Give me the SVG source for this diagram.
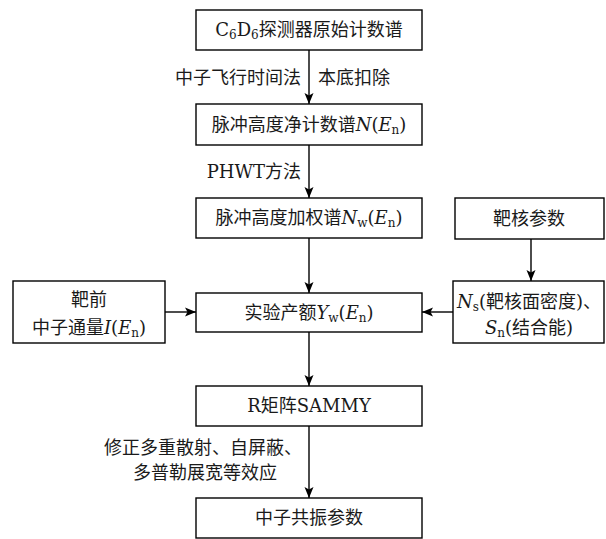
<svg xmlns="http://www.w3.org/2000/svg" width="606" height="539" viewBox="0 0 606 539">
<defs>
<style>
.box{fill:#fff;stroke:#000;stroke-width:1.4}
.ln{fill:none;stroke:#000;stroke-width:1.4;marker-end:url(#ah)}
text{font-family:"DejaVu Serif","Noto Sans CJK SC",serif;font-size:18px;fill:#1a1a1a}
.c{text-anchor:middle}
.e{text-anchor:end}
.i{font-style:italic}
.sub{font-size:12px}
</style>
<marker id="ah" markerUnits="userSpaceOnUse" markerWidth="12" markerHeight="12" refX="11" refY="6" orient="auto">
<path d="M0,1.5 L11,6 L0,10.5 L2.5,6 z" fill="#000"/>
</marker>
</defs>
<g id="connectors">
<line class="ln" x1="309" y1="50" x2="309" y2="104"/>
<line class="ln" x1="309" y1="145" x2="309" y2="198"/>
<line class="ln" x1="309" y1="238" x2="309" y2="293"/>
<line class="ln" x1="531" y1="239" x2="531" y2="281"/>
<line class="ln" x1="165" y1="312" x2="196" y2="312"/>
<line class="ln" x1="453" y1="312" x2="422" y2="312"/>
<line class="ln" x1="309" y1="332" x2="309" y2="386"/>
<line class="ln" x1="309" y1="426" x2="309" y2="498"/>
<text class="e" x="301" y="84">中子飞行时间法</text>
<text x="318" y="84">本底扣除</text>
<text class="e" x="301" y="178">PHWT方法</text>
<text class="c" x="203" y="454">修正多重散射、自屏蔽、</text>
<text class="c" x="205" y="479">多普勒展宽等效应</text>
</g>
<g id="n1">
<rect class="box" x="196" y="10" width="226" height="40"/>
<text class="c" x="309" y="36">C<tspan class="sub" dy="3">6</tspan><tspan dy="-3">D</tspan><tspan class="sub" dy="3">6</tspan><tspan dy="-3">探测器原始计数谱</tspan></text>
</g>
<g id="n2">
<rect class="box" x="196" y="104" width="226" height="41"/>
<text class="c" x="309" y="131">脉冲高度净计数谱<tspan class="i">N</tspan>(<tspan class="i">E</tspan><tspan class="sub" dy="3">n</tspan><tspan dy="-3">)</tspan></text>
</g>
<g id="n3">
<rect class="box" x="196" y="198" width="226" height="40"/>
<text class="c" x="309" y="224">脉冲高度加权谱<tspan class="i">N</tspan><tspan class="sub" dy="3">w</tspan><tspan dy="-3">(</tspan><tspan class="i">E</tspan><tspan class="sub" dy="3">n</tspan><tspan dy="-3">)</tspan></text>
</g>
<g id="n4">
<rect class="box" x="455" y="198" width="149" height="41"/>
<text class="c" x="529" y="225">靶核参数</text>
</g>
<g id="n5">
<rect class="box" x="13" y="281" width="152" height="62"/>
<text class="c" x="89" y="306">靶前</text>
<text class="c" x="89" y="334">中子通量<tspan class="i">I</tspan>(<tspan class="i">E</tspan><tspan class="sub" dy="3">n</tspan><tspan dy="-3">)</tspan></text>
</g>
<g id="n6">
<rect class="box" x="196" y="293" width="226" height="39"/>
<text class="c" x="309" y="319">实验产额<tspan class="i">Y</tspan><tspan class="sub" dy="3">w</tspan><tspan dy="-3">(</tspan><tspan class="i">E</tspan><tspan class="sub" dy="3">n</tspan><tspan dy="-3">)</tspan></text>
</g>
<g id="n7">
<rect class="box" x="453" y="281" width="151" height="62"/>
<text class="c" x="529" y="308"><tspan class="i">N</tspan><tspan class="sub" dy="3">s</tspan><tspan dy="-3">(靶核面密度)、</tspan></text>
<text class="c" x="529" y="334"><tspan class="i">S</tspan><tspan class="sub" dy="3">n</tspan><tspan dy="-3">(结合能)</tspan></text>
</g>
<g id="n8">
<rect class="box" x="196" y="386" width="226" height="40"/>
<text class="c" x="309" y="412">R矩阵SAMMY</text>
</g>
<g id="n9">
<rect class="box" x="196" y="498" width="226" height="40"/>
<text class="c" x="309" y="524">中子共振参数</text>
</g>
</svg>
